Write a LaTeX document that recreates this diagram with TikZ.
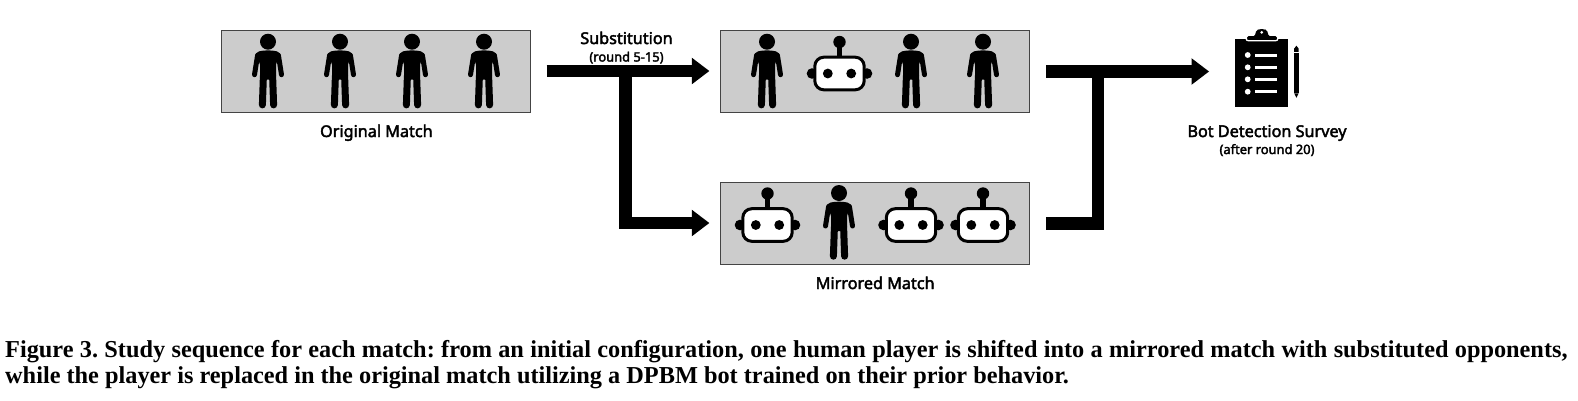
\documentclass[tikz,border=0pt]{standalone}
\usepackage{fontspec}
\setmainfont{Liberation Serif}
\newfontfamily\labelfont[FakeBold=2.5]{Noto Sans}
\usetikzlibrary{calc}
\definecolor{panelgray}{HTML}{CCCCCC}
\definecolor{paneledge}{HTML}{444444}
\tikzset{
  panel/.style={draw=paneledge,line width=0.9pt,fill=panelgray,minimum height=82pt,inner sep=0pt},
  flowline/.style={line width=12.4pt,black},
  arrowhead/.style={fill=black,draw=none},
  lab/.style={font=\labelfont\fontsize{16.2pt}{18pt}\selectfont,inner sep=0pt,anchor=base},
  sublab/.style={font=\labelfont\fontsize{12.9pt}{15pt}\selectfont,inner sep=0pt,anchor=base},
  captext/.style={font=\bfseries\fontsize{24.3pt}{28pt}\selectfont,inner sep=0pt,anchor=base west},
  person/.pic={
    \fill[black] (0,0) circle[radius=8];
    \fill[black,rounded corners=4pt] (-12.6,17) -- (-12.6,10.5) -- (-5,8.7) -- (5,8.7) -- (12.6,10.5) -- (12.6,17) -- (8,19) -- (8,38) -- (-8,38) -- (-8,19) -- cycle;
    \draw[black,line width=5pt,line cap=round,line join=round] (-10.4,13.5) -- (-13.5,33);
    \draw[black,line width=5pt,line cap=round,line join=round] (10.4,13.5) -- (13.5,33);
    \draw[black,line width=7pt,line cap=round] (-4.6,34) -- (-5.6,63.2);
    \draw[black,line width=7pt,line cap=round] (4.6,34) -- (5.6,63.2);
  },
  robot/.pic={
    \fill[black] (0,-31.5) circle[radius=6.2];
    \fill[black] (-2.9,-31) rectangle (2.9,-15);
    \fill[black] (-27.5,0) circle[radius=5.3];
    \fill[black] (27.5,0) circle[radius=5.3];
    \draw[black,line width=3pt,fill=white,rounded corners=9pt] (-24.7,-16.3) rectangle (24.7,16.3);
    \fill[black] (-11.7,0) circle[radius=4.9];
    \fill[black] (11.7,0) circle[radius=4.9];
  }
}
\begin{document}
\begin{tikzpicture}[x=1pt,y=-1pt]
\useasboundingbox (0,0) rectangle (1578,400);
% panels
\node[panel,minimum width=309pt] (orig) at (376.4,71) {};
\node[panel,minimum width=309pt] (subst) at (875.2,71) {};
\node[panel,minimum width=309pt] (mirr) at (875.2,223) {};
% figures
\foreach \cx in {268,340,412,484} \pic at (\cx,41.7) {person};
\pic at (767,41.7) {person};
\pic at (839.5,73.5) {robot};
\pic at (911,41.7) {person};
\pic at (983,41.7) {person};
\pic at (767.5,225) {robot};
\pic at (839,193) {person};
\pic at (911,225) {robot};
\pic at (983,225) {robot};
% connector anchors
\coordinate (a0) at (546.7,71);
\coordinate (a1) at (691.8,71);
\coordinate (ja) at (625.5,71);
\coordinate (jb) at (625.5,223);
\coordinate (a2) at (691.8,223);
\coordinate (b0) at (1046,223.3);
\coordinate (jc) at (1097.8,223.3);
\coordinate (jd) at (1097.8,71.5);
\coordinate (c0) at (1046,71.5);
\coordinate (c1) at (1191.5,71.5);
% connectors
\draw[flowline] (a0) -- (a1);
\draw[flowline,line join=miter] (ja) -- (jb) -- (a2);
\draw[flowline,line join=miter] (b0) -- (jc) -- (jd);
\draw[flowline] (c0) -- (c1);
\fill[arrowhead] (a1) ++(0,-13.3) -- ++(17.5,13.3) -- ++(-17.5,13.3) -- cycle;
\fill[arrowhead] (a2) ++(0,-13.3) -- ++(17.5,13.3) -- ++(-17.5,13.3) -- cycle;
\fill[arrowhead] (c1) ++(0,-13.3) -- ++(17.5,13.3) -- ++(-17.5,13.3) -- cycle;
% clipboard
\fill[black] (1235,38.5) rectangle (1288.3,106.7);
\fill[black,rounded corners=1.5pt] (1247,40) -- (1247,36.2) -- (1255.2,36.2) -- (1255.2,33) -- (1257,30) -- (1259,29.2) -- (1264.4,29.2) -- (1266.4,30) -- (1268.2,33) -- (1268.2,36.2) -- (1277,36.2) -- (1277,40) -- cycle;
\draw[white,line width=1.3pt,line cap=round,rounded corners=2.5pt] (1246,36.8) -- (1246,40.8) -- (1278,40.8) -- (1278,36.8);
\fill[white] (1261.7,32.3) circle[radius=1.5];
\foreach \yy in {55,67.3,79.3,91.7}{
  \fill[white] (1247.7,\yy) circle[radius=2.9];
  \fill[white] (1255,\yy-1.5) rectangle (1277.3,\yy+1.5);
}
% pencil
\fill[black] (1294.2,53.3) rectangle (1298.6,93.3);
\fill[black] (1294.2,93.3) -- (1296.4,97.8) -- (1298.6,93.3) -- cycle;
\fill[black] (1294.2,51.8) -- (1294.2,48.5) -- (1296.4,45.7) -- (1298.6,48.5) -- (1298.6,51.8) -- cycle;
% labels
\node[lab] (lorig) at (376.4,137) {Original Match};
\node[lab] (lsub) at (626.5,44) {Substitution};
\node[sublab] (lround) at (626.5,61.5) {(round 5-15)};
\node[lab] (lmirr) at (875.2,289) {Mirrored Match};
\node[lab] (lbot) at (1267,137) {Bot Detection Survey};
\node[sublab] (lafter) at (1267,154) {(after round 20)};
% caption
\node[captext] (c1t) at (5,357) {\frenchspacing\spaceskip=6.33pt Figure 3. Study sequence for each match: from an initial configuration, one human player is shifted into a mirrored match with substituted opponents,};
\node[captext] (c2t) at (5,383.5) {\frenchspacing while the player is replaced in the original match utilizing a DPBM bot trained on their prior behavior.};
\end{tikzpicture}
\end{document}
